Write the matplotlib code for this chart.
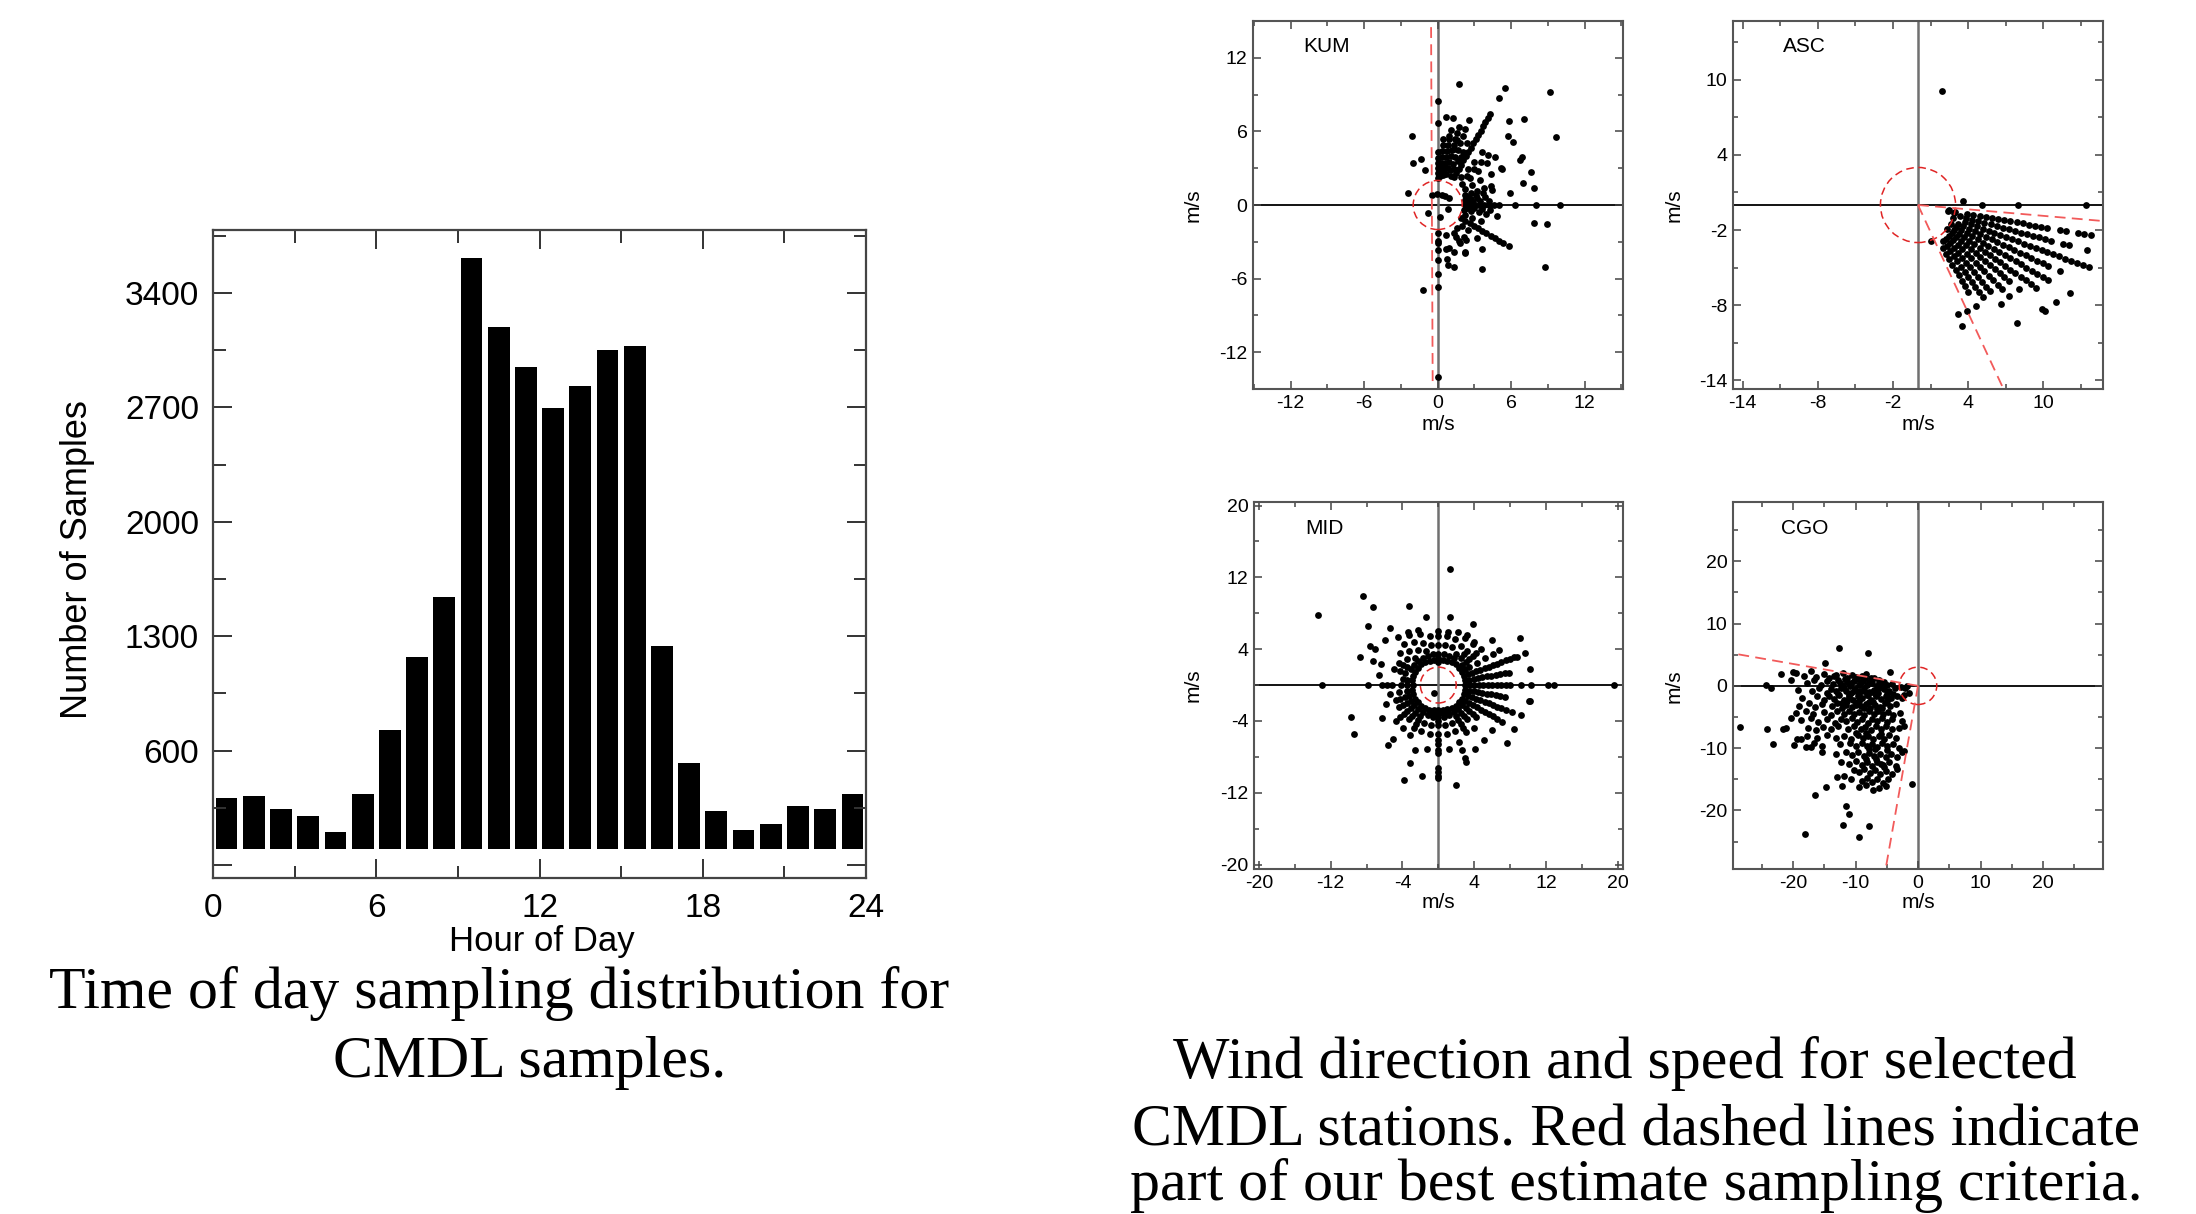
import numpy as np
import matplotlib
matplotlib.use("Agg")
import matplotlib.pyplot as plt
from matplotlib.patches import Circle
from matplotlib.ticker import FixedLocator

plt.rcParams['font.family'] = ['Liberation Sans', 'DejaVu Sans']
plt.rcParams['axes.unicode_minus'] = False

# ---------------- histogram data ----------------
hours = list(range(24))
hour_counts = [310, 323, 242, 197, 102, 334, 723, 1171, 1538, 3614, 3194, 2946,
               2694, 2831, 3049, 3075, 1237, 525, 229, 112, 152, 259, 242, 334]
hist_xticks = [0, 6, 12, 18, 24]
hist_xminor = [3, 9, 15, 21]
hist_yticks = [-100, 600, 1300, 2000, 2700, 3400]
hist_ylabels = ['', '600', '1300', '2000', '2700', '3400']
hist_yminor = [250, 950, 1650, 2350, 3050, 3750]

# ---------------- KUM (direction deg, speeds m/s) ----------------
kum_dir = [90, 85, 80, 75, 70, 65, 60, 50, 45, 40, 30, 20, 15, 10, 5, 0,
           -5, -10, -20, -30, -40, -50, -60, -75, -90]
kum_speed = [
    [2.2, 2.6, 3.0, 3.4, 3.8, 4.3, 6.7, 8.5],
    [2.4, 2.9, 3.4, 3.9, 4.4, 4.9, 5.4],
    [2.5, 3.0, 3.5, 4.0, 4.5, 5.0, 5.5, 6.2],
    [2.6, 3.1, 3.6, 4.1, 4.6, 5.1, 5.6, 6.1, 6.6],
    [3.0, 3.6, 4.2, 4.8, 5.4, 6.0, 6.6, 7.4],
    [3.2, 4.0, 4.8, 5.6],
    [2.6, 3.0, 3.4, 3.8, 4.2, 4.6, 5.0, 5.4, 5.8, 6.2, 6.6, 7.0, 7.4, 7.8, 8.2, 8.6],
    [3.0, 3.8, 4.6, 5.6],
    [3.4, 4.2, 5.0, 5.8],
    [2.6, 3.4, 4.3, 5.3, 6.1],
    [2.6, 3.2, 4.0, 5.0, 6.0],
    [2.4, 2.9, 3.4, 4.0, 4.6],
    [2.6, 3.2, 3.8, 4.6],
    [2.3, 2.8, 3.3, 3.9],
    [2.4, 2.9, 3.5, 4.2],
    [2.2, 2.6, 3.0, 3.4, 3.8, 4.2, 4.6, 5.0, 6.3, 8.0, 10.0],
    [2.4, 3.0, 3.6, 4.3],
    [2.2, 2.8, 3.4, 4.0],
    [2.4, 3.0, 3.8],
    [2.2, 2.6, 3.0, 3.4, 3.8, 4.2, 4.6, 5.0, 5.4, 5.8, 6.2, 6.7],
    [2.6, 3.2, 4.2],
    [2.4, 3.4],
    [2.6, 3.4, 4.4],
    [2.5, 3.6, 5.2],
    [2.3, 2.9, 3.1, 3.7, 4.5, 5.6, 6.7, 14.0],
]
kum_extra = [(1.74, 9.85), (5.5, 9.5), (9.2, 9.2), (5.0, 8.7), (0.65, 7.2), (1.28, 7.07),
             (5.82, 6.88), (7.07, 7.05), (9.7, 5.58), (-2.07, 5.66), (5.71, 5.66), (6.12, 5.17),
             (6.86, 3.89), (6.72, 3.67), (7.59, 2.72), (5.22, 2.94), (7.0, 1.82), (7.9, 1.36),
             (5.9, 1.0), (7.9, -1.44), (8.9, -1.58), (4.82, -0.9), (3.59, -3.59), (3.65, -5.22),
             (8.76, -5.06), (-1.22, -6.94), (0.73, -4.44), (0.87, -4.9), (-0.76, -0.68),
             (0.19, -0.95), (0.87, -0.35), (0.95, 0.54), (-0.49, 0.82), (-0.08, 0.9),
             (0.33, 0.82), (0.6, 0.73), (-2.39, 0.95), (-1.99, 3.46), (-1.36, 3.73),
             (-1.03, 2.86), (2.23, -3.95), (1.36, -3.81), (0.65, -3.59), (1.47, -2.59),
             (1.82, -3.13), (2.29, -2.86), (1.3, 4.6), (1.6, 5.3), (0.9, 5.6), (1.9, 3.9),
             (0.4, 3.1), (1.1, 2.4)]

# ---------------- ASC ----------------
asc_dir = [-10, -15, -20, -25, -30, -35, -40, -45, -50, -55, -60, -65, -70]
asc_speed = [
    [2.5, 3.0, 4.0, 4.5, 5.0, 5.5, 6.0, 6.5, 7.0, 7.5, 8.0, 8.5, 9.0, 9.5, 10.0, 10.5,
     11.5, 12.0, 13.0, 13.5, 14.0],
    [3.5, 4.0, 4.5, 5.0, 5.5, 6.0, 6.5, 7.0, 7.5, 8.0, 8.5, 9.0, 9.5, 10.0, 10.5, 11.0,
     12.0, 12.5, 14.0],
    [3.0, 4.0, 4.5, 5.0, 5.5, 6.0, 6.5, 7.0, 7.5, 8.0, 8.5, 9.0, 9.5, 10.0, 10.5, 11.0,
     11.5, 12.0, 12.5, 13.0, 13.5, 14.0, 14.5],
    [3.5, 4.0, 4.5, 5.0, 5.5, 6.0, 6.5, 7.0, 7.5, 8.0, 8.5, 9.0, 9.5, 10.0, 10.5, 11.0,
     11.5, 12.5],
    [3.0, 3.5, 4.0, 4.5, 5.0, 5.5, 6.0, 6.5, 7.0, 7.5, 8.0, 8.5, 9.0, 9.5, 10.0, 10.5,
     11.0, 11.5, 12.0, 14.0],
    [3.5, 4.0, 4.5, 5.0, 5.5, 6.0, 6.5, 7.0, 7.5, 8.0, 8.5, 9.0, 9.5, 10.0, 10.5, 11.0,
     11.5, 13.5],
    [3.0, 3.5, 4.0, 4.5, 5.0, 5.5, 6.0, 6.5, 7.0, 7.5, 8.0, 8.5, 9.0, 9.5, 10.5, 12.9, 13.2],
    [3.5, 4.0, 4.5, 5.0, 5.5, 6.0, 6.5, 7.0, 7.5, 8.0, 8.5, 9.0, 9.5, 10.3],
    [3.5, 4.0, 4.5, 5.0, 5.5, 6.0, 6.5, 7.0, 7.5, 8.0, 8.5, 9.0, 10.3, 12.3],
    [3.5, 4.0, 4.5, 5.0, 5.5, 6.0, 6.5, 7.0, 7.5, 8.0, 8.5, 9.0],
    [4.0, 4.5, 5.0, 5.5, 6.0, 6.5, 7.0, 7.5, 8.0, 9.3],
    [9.3],
    [3.1, 9.3, 10.3],
]
asc_extra = [(1.9, 9.1), (3.6, 0.3), (5.1, 0.0), (8.0, 0.0), (13.4, 0.0), (2.4, -0.5), (2.9, -0.6)]

# ---------------- MID ----------------
mid_dir = list(range(0, 360, 10))
mid_speed = [
    [3.0, 3.5, 4.0, 4.5, 5.0, 5.5, 6.0, 6.5, 7.0, 7.5, 8.0, 9.2, 10.3, 12.2, 12.9, 19.6],
    [3.0, 3.5, 4.0, 4.5, 5.0, 5.5, 6.0, 6.5, 7.0, 7.5, 8.0, 10.4],
    [3.0, 3.5, 4.0, 4.5, 5.0, 5.5, 6.0, 6.5, 7.0, 7.5, 8.0, 8.5, 9.0, 9.3, 10.3],
    [3.0, 3.5, 4.0, 5.0, 6.0, 7.0, 7.8, 10.5],
    [3.0, 3.5, 4.0, 4.5, 5.0, 5.5, 6.2, 7.8],
    [3.0, 4.0, 4.5, 5.0, 6.0, 6.2],
    [3.0, 3.5, 4.0, 5.0, 6.0, 6.5, 7.8],
    [2.8, 3.5, 4.5, 5.5, 6.3],
    [2.8, 3.5, 4.5, 5.5, 6.0, 7.7],
    [2.6, 3.0, 3.5, 4.5, 5.5, 6.0],
    [2.8, 3.5, 4.5, 5.5, 7.7],
    [2.8, 3.5, 4.0, 5.0, 6.0, 6.5, 9.4],
    [3.0, 3.5, 4.5, 5.5, 6.5, 6.8],
    [3.0, 3.5, 4.0, 5.0, 6.0, 7.0, 8.3, 11.4, 13.0],
    [3.0, 3.5, 4.5, 5.5, 7.8, 10.3],
    [3.0, 3.5, 4.0, 4.5, 5.0, 8.1, 8.8],
    [3.0, 4.0, 4.5, 5.3, 6.8, 7.7, 9.3],
    [3.0, 3.5, 4.0, 6.7],
    [2.8, 3.5, 4.2, 5.2, 5.7, 6.3, 7.8, 13.0],
    [3.0, 3.5, 4.5, 5.5],
    [3.0, 3.5, 4.0, 4.5, 5.0, 6.2, 10.3],
    [3.0, 3.5, 4.0, 4.5, 5.0, 7.3, 10.9],
    [3.0, 3.5, 4.0, 4.5, 5.0, 5.5, 6.2],
    [3.0, 3.5, 4.0, 4.5, 5.0, 6.2, 7.8, 8.7],
    [3.0, 3.5, 4.0, 4.5, 5.0, 5.5, 6.4],
    [3.0, 3.5, 4.5, 5.5, 7.7, 9.2, 11.3],
    [2.8, 3.2, 3.6, 4.5, 5.5, 7.2, 10.3],
    [2.8, 3.2, 3.6, 4.0, 4.5, 5.5, 6.1, 6.6, 7.2, 7.6, 9.2, 9.7, 10.1, 10.4],
    [2.8, 3.2, 3.6, 4.5, 5.5, 7.2, 11.3],
    [2.8, 3.2, 3.6, 4.5, 5.5, 6.7, 7.7, 8.6, 9.1],
    [3.0, 3.5, 4.0, 4.5, 5.0, 5.5, 6.1, 8.2],
    [3.0, 3.5, 4.0, 4.5, 5.0, 6.2, 8.0],
    [3.0, 3.5, 4.0, 4.5, 5.0, 5.5, 7.8, 10.0],
    [3.0, 3.5, 4.0, 4.5, 5.0, 5.5, 6.0, 6.5, 7.0, 7.5, 8.2, 9.8],
    [3.0, 3.5, 4.0, 4.5, 5.0, 5.5, 6.0, 6.5, 7.0, 7.5, 8.0, 8.8, 9.8],
    [3.0, 3.5, 4.0, 4.5, 5.0, 5.5, 6.0, 6.5, 7.0, 7.5, 10.3, 10.4],
]
mid_extra = [(1.34, 12.9), (-13.42, 7.77), (-0.52, -0.86)]

# ---------------- CGO (x, y) m/s ----------------
cgo_points = [
    (-19.5, 2.1), (-18.2, 1.6), (-17.1, 2.3), (-16.3, 1.4), (-15.0, 1.9), (-14.2, 1.2),
    (-13.1, 1.7), (-12.0, 2.0), (-11.3, 1.3), (-10.6, 1.8), (-9.8, 1.1), (-9.0, 1.5),
    (-8.3, 1.9), (-7.6, 1.2), (-6.2, 1.0), (-5.4, 0.6),
    (-20.3, 0.9), (-17.8, 0.4), (-16.6, 1.0), (-15.5, 0.2), (-14.5, 0.7), (-13.6, 0.3),
    (-12.8, 0.9), (-12.1, 0.2), (-11.4, 0.6), (-10.9, -0.1), (-10.2, 0.8), (-9.5, 0.2),
    (-8.8, 0.7), (-8.1, 0.1), (-7.4, 0.5), (-6.6, 0.0), (-5.8, 0.4), (-5.0, 0.1), (-4.2, 0.3),
    (-19.2, -0.6), (-17.0, -0.9), (-15.8, -0.4), (-14.6, -1.1), (-13.9, -0.5), (-13.1, -0.9),
    (-12.4, -0.3), (-11.6, -0.8), (-10.8, -1.2), (-10.1, -0.5), (-9.3, -0.9), (-8.6, -0.4),
    (-7.9, -1.0), (-7.1, -0.6), (-6.4, -1.1), (-5.5, -0.5), (-4.6, -0.9), (-3.7, -0.4),
    (-2.8, -0.2), (-1.8, -0.1), (-2.2, -1.4),
    (-18.5, -2.0), (-16.2, -1.7), (-15.1, -2.2), (-14.2, -1.6), (-13.4, -2.1), (-12.6, -1.5),
    (-11.9, -2.3), (-11.1, -1.8), (-10.4, -2.2), (-9.6, -1.6), (-8.9, -2.0), (-8.2, -1.5),
    (-7.5, -2.2), (-6.8, -1.7), (-6.0, -2.1), (-5.2, -1.6), (-4.3, -2.0), (-3.3, -1.7),
    (-2.5, -1.9),
    (-19.0, -3.2), (-17.5, -2.8), (-16.5, -3.4), (-15.4, -2.9), (-13.8, -3.3), (-13.0, -2.7),
    (-12.2, -3.5), (-11.5, -3.0), (-10.6, -3.4), (-9.9, -2.8), (-9.1, -3.3), (-8.4, -2.9),
    (-7.7, -3.5), (-6.9, -3.0), (-6.1, -3.4), (-5.3, -2.8), (-4.5, -3.2), (-3.6, -2.9),
    (-19.6, -4.4), (-17.9, -4.0), (-16.8, -4.6), (-15.0, -4.2), (-14.0, -4.7), (-12.9, -4.1),
    (-11.8, -4.5), (-11.0, -4.0), (-10.2, -4.6), (-9.4, -4.2), (-8.6, -4.7), (-7.8, -4.1),
    (-7.1, -4.5), (-6.4, -4.0), (-5.6, -4.6), (-4.8, -4.2), (-4.0, -4.7), (-2.9, -4.4),
    (-18.8, -5.5), (-17.2, -5.2), (-16.0, -5.8), (-14.6, -5.4), (-13.3, -5.9), (-12.4, -5.3),
    (-11.5, -5.7), (-10.6, -5.2), (-9.7, -5.8), (-8.9, -5.4), (-8.0, -5.9), (-7.3, -5.3),
    (-6.5, -5.7), (-5.7, -5.2), (-4.9, -5.8), (-4.1, -5.4), (-2.6, -5.6),
    (-20.4, -5.2), (-17.6, -6.7), (-16.4, -7.1), (-15.2, -6.6), (-13.9, -7.0), (-12.8, -6.5),
    (-11.2, -6.9), (-10.3, -6.4), (-9.2, -7.0), (-8.5, -6.6), (-7.6, -7.1), (-6.8, -6.5),
    (-6.0, -6.9), (-5.2, -6.4), (-4.2, -7.0), (-3.1, -6.7), (-2.2, -6.4),
    (-19.3, -8.6), (-17.8, -8.0), (-16.1, -8.4), (-14.5, -7.9), (-13.2, -8.3), (-11.8, -8.1),
    (-10.7, -8.5), (-9.6, -7.9), (-8.8, -8.4), (-8.0, -8.0), (-7.2, -8.6), (-6.3, -8.1),
    (-5.5, -8.5), (-4.6, -7.9), (-3.6, -8.3),
    (-18.0, -9.9), (-16.7, -9.2), (-15.3, -9.6), (-12.5, -9.4), (-10.9, -9.1), (-9.9, -9.6),
    (-9.0, -9.2), (-8.2, -9.7), (-7.4, -9.3), (-6.6, -9.8), (-5.7, -9.2), (-4.9, -9.6),
    (-4.0, -9.3), (-3.0, -10.0), (-2.2, -10.5),
    (-15.3, -10.7), (-13.1, -11.0), (-11.6, -10.6), (-10.5, -11.1), (-9.6, -10.7),
    (-8.7, -11.2), (-7.9, -10.8), (-7.0, -11.3), (-6.1, -10.9), (-5.2, -11.4), (-4.3, -11.0),
    (-3.4, -11.5), (-2.5, -10.6),
    (-12.4, -12.2), (-11.0, -12.6), (-9.9, -12.1), (-8.9, -12.7), (-8.1, -12.3), (-7.3, -12.8),
    (-6.5, -12.2), (-5.6, -12.7), (-4.6, -12.3), (-3.6, -12.9),
    (-13.0, -14.6), (-11.8, -14.4), (-10.2, -13.5), (-9.4, -13.9), (-8.6, -13.4), (-7.7, -14.0),
    (-6.9, -13.5), (-6.1, -14.1), (-5.2, -13.6), (-4.2, -14.2), (-3.4, -13.3),
    (-14.7, -16.2), (-12.1, -16.0), (-10.7, -14.9), (-9.0, -15.3), (-8.2, -14.8), (-7.3, -15.4),
    (-6.5, -15.0), (-5.6, -15.6), (-4.8, -14.9),
    (-9.5, -16.3), (-8.4, -15.9), (-7.2, -16.8), (-6.3, -16.4), (-5.1, -16.0),
    (-13.5, 1.5), (-12.5, 0.5), (-11.7, 1.1), (-10.8, 0.4), (-10.0, 1.4), (-9.2, 0.6),
    (-8.5, 1.2), (-7.8, 0.6), (-7.0, 1.3), (-6.3, 0.5), (-12.8, -1.3), (-11.9, -0.4),
    (-11.0, -1.5), (-10.3, -0.9), (-9.5, -1.3), (-8.7, -0.8), (-8.0, -1.5), (-7.3, -1.0),
    (-6.7, -1.5), (-6.2, -0.3), (-5.0, -1.3), (-4.0, -1.3), (-12.1, -2.7), (-11.3, -2.5),
    (-10.0, -3.0), (-9.4, -2.5), (-8.6, -3.6), (-7.9, -2.6), (-7.2, -2.6), (-6.5, -3.8),
    (-5.7, -3.6), (-4.9, -2.5), (-10.0, -7.5), (-8.4, -7.5), (-7.8, -10.2), (-6.9, -10.2),
    (-6.0, -7.7), (-5.0, -10.3), (-8.4, -11.7), (-6.8, -11.7), (-6.0, -12.6), (-5.4, -13.0),
    (-12.67, 5.99), (-7.97, 5.19), (-14.92, 3.69), (-4.49, 2.14), (-21.98, 1.93), (-20.0, 2.14),
    (-24.28, 0.1), (-23.58, -0.43), (-28.56, -6.58), (-24.17, -6.9), (-21.6, -7.0),
    (-21.07, -6.84), (-23.2, -9.36), (-19.84, -9.57), (-16.42, -17.54), (-11.6, -19.3),
    (-11.02, -20.64), (-11.98, -22.4), (-7.81, -22.51), (-18.13, -23.85), (-9.41, -24.22),
    (-0.9, -15.7), (-1.44, -1.23), (-2.09, -0.43), (-17.17, -9.79), (-18.66, -8.61),
]

# red criteria
kum_circle_r = 2.0
asc_circle_r = 3.0
mid_circle_r = 2.0
cgo_circle_r = 3.0
kum_lines = [((-0.54, 14.5), (-0.41, -14.5))]
asc_lines = [((0.0, 0.0), (14.78, -1.28)), ((0.0, 0.0), (6.83, -14.7))]
cgo_lines = [((0.0, 0.0), (-29.6, 5.2)), ((0.0, 0.0), (-5.18, -29.4))]

# ---------------- figure ----------------
W, H = 2196, 1214
fig = plt.figure(figsize=(W / 100, H / 100), dpi=100)


def rect(l, t, r, b):
    return [l / W, 1 - b / H, (r - l) / W, (b - t) / H]


def ftext(x, y, s, **kw):
    fig.text(x / W, 1 - y / H, s, **kw)


SPINE = '#444444'

# ---- histogram ----
ax = fig.add_axes(rect(213, 230, 866, 878))
ax.bar(np.array(hours) + 0.5, hour_counts, width=0.8, color='black')
ax.set_xlim(0, 24)
ax.set_ylim(-180, 3785)
ax.set_xticks(hist_xticks)
ax.xaxis.set_minor_locator(FixedLocator(hist_xminor))
ax.set_yticks(hist_yticks)
ax.set_yticklabels(hist_ylabels)
ax.yaxis.set_minor_locator(FixedLocator(hist_yminor))
ax.tick_params(which='both', direction='in', top=True, right=True, color='#333333')
ax.tick_params(which='major', length=14, width=1.4, labelsize=24, pad=11)
ax.tick_params(which='minor', length=9, width=1.4)
ax.tick_params(axis='y', which='major', pad=10)
for sp in ax.spines.values():
    sp.set_color(SPINE)
    sp.set_linewidth(1.6)
ftext(542, 942, 'Hour of Day', ha='center', va='center', fontsize=25)
ftext(78, 560, 'Number of Samples', ha='center', va='center', rotation=90, fontsize=26)


def polar_points(dirs, speeds, extra):
    xs, ys = [], []
    for d, sl in zip(dirs, speeds):
        a = np.deg2rad(d)
        for s in sl:
            xs.append(s * np.cos(a))
            ys.append(s * np.sin(a))
    for (x, y) in extra:
        xs.append(x)
        ys.append(y)
    return np.array(xs), np.array(ys)


def panel(box, xlim, ylim, xmaj, xmin, ymaj, ymin, name, name_xy, xs, ys,
          circ_r, lines, xlabel_xy, ylabel_xy):
    a = fig.add_axes(rect(*box))
    a.set_xlim(*xlim)
    a.set_ylim(*ylim)
    a.axhline(0, color='black', lw=1.3, zorder=1)
    a.axvline(0, color='#707070', lw=1.8, zorder=1)
    a.scatter(xs, ys, s=24, color='black', linewidths=0, zorder=3)
    a.add_patch(Circle((0, 0), circ_r, fill=False, edgecolor='#e02525',
                       linestyle=(0, (5, 3)), lw=1.1, zorder=4))
    for (p0, p1) in lines:
        a.plot([p0[0], p1[0]], [p0[1], p1[1]], color='#f25a5a',
               linestyle=(0, (6, 3.5)), lw=1.3, zorder=4)
    a.xaxis.set_major_locator(FixedLocator(xmaj))
    a.xaxis.set_minor_locator(FixedLocator(xmin))
    a.yaxis.set_major_locator(FixedLocator(ymaj))
    a.yaxis.set_minor_locator(FixedLocator(ymin))
    a.tick_params(which='both', direction='in', top=True, right=True, color='#444444')
    a.tick_params(which='major', length=6, width=1.1, labelsize=14, pad=4)
    a.tick_params(which='minor', length=3.5, width=1.1)
    for sp in a.spines.values():
        sp.set_color('#555555')
        sp.set_linewidth(1.5)
    ftext(name_xy[0], name_xy[1], name, ha='left', va='center', fontsize=15)
    ftext(xlabel_xy[0], xlabel_xy[1], 'm/s', ha='center', va='center', fontsize=15)
    ftext(ylabel_xy[0], ylabel_xy[1], 'm/s', ha='center', va='center', fontsize=15,
          rotation=90)
    return a


kx, ky = polar_points(kum_dir, kum_speed, kum_extra)
panel((1253, 21, 1623, 389), (-15.08, 15.13), (-15, 15),
      [-12, -6, 0, 6, 12], [-15, -9, -3, 3, 9, 15],
      [-12, -6, 0, 6, 12], [-15, -9, -3, 3, 9, 15],
      'KUM', (1303, 46), kx, ky, kum_circle_r, kum_lines, (1438, 424), (1193, 205))

axs, ays = polar_points(asc_dir, asc_speed, asc_extra)
panel((1733, 21, 2103, 389), (-14.78, 14.78), (-14.7, 14.7),
      [-14, -8, -2, 4, 10], [-11, -5, 1, 7, 13],
      [-14, -8, -2, 4, 10], [-11, -5, 1, 7, 13],
      'ASC', (1783, 47), axs, ays, asc_circle_r, asc_lines, (1918, 424), (1674, 205))

mx, my = polar_points(mid_dir, mid_speed, mid_extra)
panel((1254, 502, 1623, 869), (-20.55, 20.6), (-20.5, 20.4),
      [-20, -12, -4, 4, 12, 20], [-16, -8, 0, 8, 16],
      [-20, -12, -4, 4, 12, 20], [-16, -8, 0, 8, 16],
      'MID', (1305, 528), mx, my, mid_circle_r, [], (1438, 903), (1193, 685))

cx = np.array([p[0] for p in cgo_points])
cy = np.array([p[1] for p in cgo_points])
panel((1733, 502, 2103, 869), (-29.6, 29.6), (-29.4, 29.5),
      [-20, -10, 0, 10, 20], [-25, -15, -5, 5, 15, 25],
      [-20, -10, 0, 10, 20], [-25, -15, -5, 5, 15, 25],
      'CGO', (1781, 528), cx, cy, cgo_circle_r, cgo_lines, (1918, 903), (1674, 686))

# ---- captions ----
SERIF = ['Liberation Serif', 'DejaVu Serif']
cap = dict(ha='center', va='baseline', fontsize=43, family=SERIF)
ftext(499, 1008, 'Time of day sampling distribution for', **cap)
ftext(530, 1077, 'CMDL samples.', **cap)
ftext(1625, 1078, 'Wind direction and speed for selected', **cap)
ftext(1636, 1145, 'CMDL stations. Red dashed lines indicate', **cap)
ftext(1636, 1200, 'part of our best estimate sampling criteria.', **cap)

fig.savefig('out.png', dpi=100)
